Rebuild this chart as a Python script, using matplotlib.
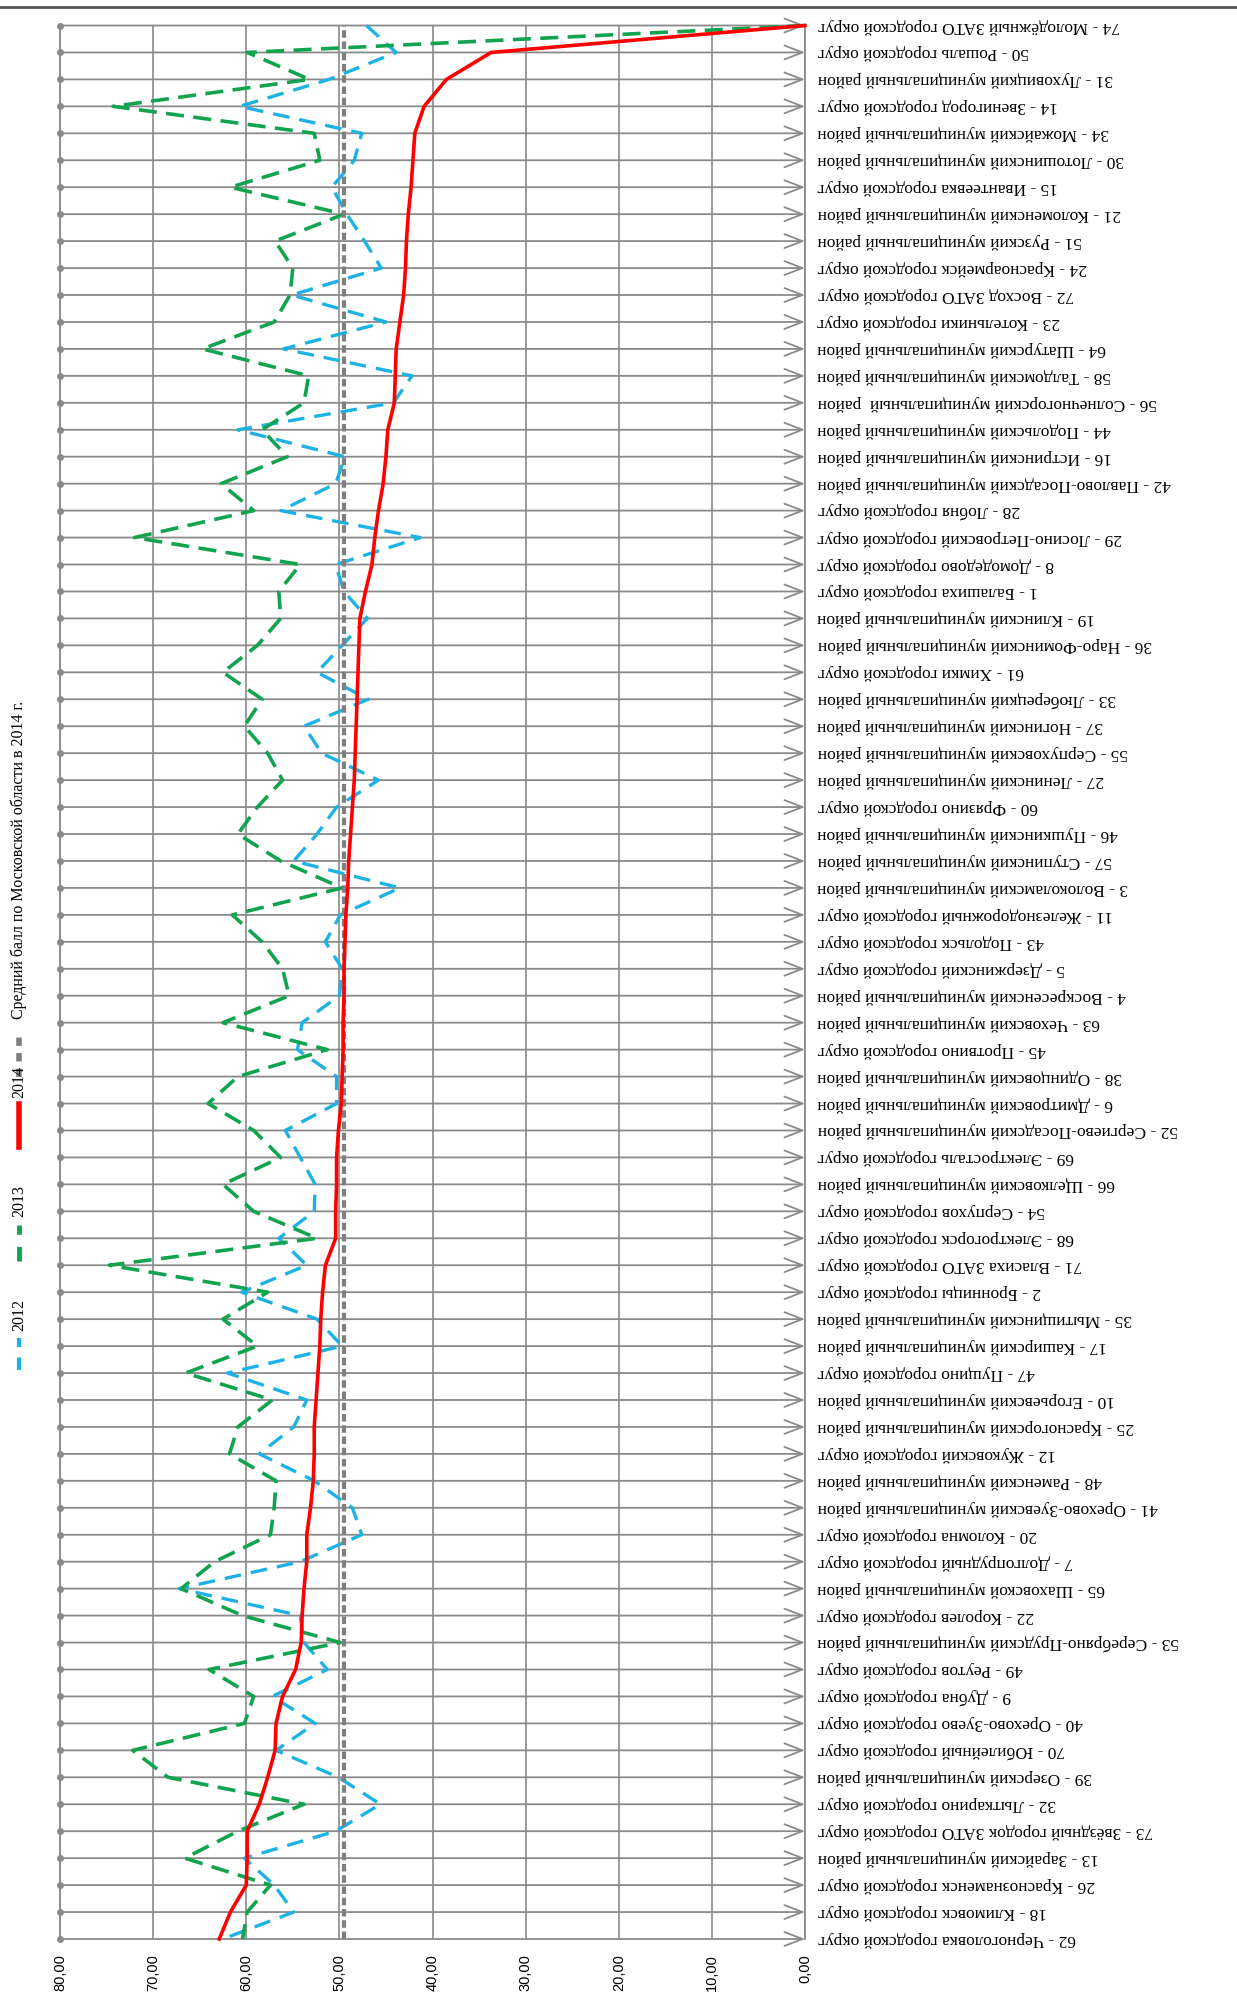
import numpy as np
import matplotlib
matplotlib.use("Agg")
import matplotlib.pyplot as plt
from matplotlib.lines import Line2D

# Муниципальные образования (сверху вниз, как на исходной диаграмме)
names = [
    "74 - Молодёжный ЗАТО городской округ",
    "50 - Рошаль городской округ",
    "31 - Луховицкий муниципальный район",
    "14 - Звенигород городской округ",
    "34 - Можайский муниципальный район",
    "30 - Лотошинский муниципальный район",
    "15 - Ивантеевка городской округ",
    "21 - Коломенский муниципальный район",
    "51 - Рузский муниципальный район",
    "24 - Красноармейск городской округ",
    "72 - Восход ЗАТО городской округ",
    "23 - Котельники городской округ",
    "64 - Шатурский муниципальный район",
    "58 - Талдомский муниципальный район",
    "56 - Солнечногорский муниципальный  район",
    "44 - Подольский муниципальный район",
    "16 - Истринский муниципальный район",
    "42 - Павлово-Посадский муниципальный район",
    "28 - Лобня городской округ",
    "29 - Лосино-Петровский городской округ",
    "8 - Домодедово городской округ",
    "1 - Балашиха городской округ",
    "19 - Клинский муниципальный район",
    "36 - Наро-Фоминский муниципальный район",
    "61 - Химки городской округ",
    "33 - Люберецкий муниципальный район",
    "37 - Ногинский муниципальный район",
    "55 - Серпуховский муниципальный район",
    "27 - Ленинский муниципальный район",
    "60 - Фрязино городской округ",
    "46 - Пушкинский муниципальный район",
    "57 - Ступинский муниципальный район",
    "3 - Волоколамский муниципальный район",
    "11 - Железнодорожный городской округ",
    "43 - Подольск городской округ",
    "5 - Дзержинский городской округ",
    "4 - Воскресенский муниципальный район",
    "63 - Чеховский муниципальный район",
    "45 - Протвино городской округ",
    "38 - Одинцовский муниципальный район",
    "6 - Дмитровский муниципальный район",
    "52 - Сергиево-Посадский муниципальный район",
    "69 - Электросталь городской округ",
    "66 - Щелковский муниципальный район",
    "54 - Серпухов городской округ",
    "68 - Электрогорск городской округ",
    "71 - Власиха ЗАТО городской округ",
    "2 - Бронницы городской округ",
    "35 - Мытищинский муниципальный район",
    "17 - Каширский муниципальный район",
    "47 - Пущино городской округ",
    "10 - Егорьевский муниципальный район",
    "25 - Красногорский муниципальный район",
    "12 - Жуковский городской округ",
    "48 - Раменский муниципальный район",
    "41 - Орехово-Зуевский муниципальный район",
    "20 - Коломна городской округ",
    "7 - Долгопрудный городской округ",
    "65 - Шаховской муниципальный район",
    "22 - Королев городской округ",
    "53 - Серебряно-Прудский муниципальный район",
    "49 - Реутов городской округ",
    "9 - Дубна городской округ",
    "40 - Орехово-Зуево городской округ",
    "70 - Юбилейный городской округ",
    "39 - Озерский муниципальный район",
    "32 - Лыткарино городской округ",
    "73 - Звёздный городок ЗАТО городской округ",
    "13 - Зарайский муниципальный район",
    "26 - Краснознаменск городской округ",
    "18 - Климовск городской округ",
    "62 - Черноголовка городской округ",
]

score_2014 = [0.0, 33.7, 38.5, 40.9, 41.9, 42.1, 42.3, 42.6, 42.8, 42.9,
              43.1, 43.5, 43.9, 44.0, 44.1, 44.8, 45.0, 45.3, 45.8, 46.2,
              46.5, 47.2, 47.8, 47.9, 48.0, 48.1, 48.2, 48.3, 48.4, 48.6,
              48.8, 49.0, 49.1, 49.3, 49.4, 49.5, 49.5, 49.6, 49.6, 49.7,
              49.8, 50.1, 50.3, 50.3, 50.4, 50.4, 51.5, 51.8, 52.0, 52.1,
              52.3, 52.5, 52.7, 52.7, 52.8, 53.1, 53.5, 53.5, 53.8, 54.0,
              54.1, 54.7, 56.1, 56.8, 56.9, 57.7, 58.6, 59.9, 59.9, 60.0,
              61.7, 62.9]

score_2013 = [0.0, 59.9, 53.2, 74.3, 52.7, 52.1, 61.7, 49.5, 56.9, 55.0,
              55.3, 57.0, 64.7, 53.3, 53.8, 58.3, 55.6, 62.7, 59.2, 72.0,
              54.2, 56.5, 56.3, 58.8, 62.5, 58.3, 60.2, 57.7, 56.1, 58.8,
              60.9, 56.3, 49.7, 61.5, 58.3, 56.1, 55.4, 62.5, 51.3, 60.9,
              64.1, 59.2, 56.3, 62.5, 59.2, 52.4, 74.7, 57.7, 62.5, 58.8,
              66.5, 57.2, 60.9, 61.8, 56.8, 57.0, 57.4, 63.4, 67.0, 60.4,
              49.9, 64.0, 59.2, 60.2, 72.2, 68.4, 53.8, 60.9, 66.6, 57.4,
              59.9, 60.4]

score_2012 = [47.1, 43.9, 51.1, 60.7, 47.6, 48.4, 50.8, 49.2, 47.3, 45.5,
              55.1, 45.0, 56.0, 42.2, 44.2, 60.9, 49.4, 50.4, 56.3, 41.3,
              50.4, 49.5, 47.0, 49.7, 52.4, 46.9, 53.8, 51.9, 45.8, 50.3,
              52.4, 54.9, 43.5, 49.9, 51.5, 49.7, 50.0, 54.0, 54.5, 50.3,
              50.3, 55.8, 54.2, 52.6, 52.7, 56.5, 53.5, 60.5, 52.4, 49.7,
              62.0, 53.5, 54.9, 58.6, 52.7, 48.6, 47.6, 54.2, 67.2, 54.2,
              53.8, 51.3, 57.2, 52.6, 56.8, 50.1, 45.6, 50.4, 60.2, 57.0,
              54.9, 62.5]

avg_2014 = 49.5
value_ticks = [80, 70, 60, 50, 40, 30, 20, 10, 0]

legend_names = ["2012", "2013", "2014", "Средний балл по Московской области в 2014 г."]

c12 = "#1db2e6"
c13 = "#12a34f"
c14 = "#ff0000"
cavg = "#7f7f7f"
cgrid = "#8a8a8a"

W, H = 1237, 1998
fig = plt.figure(figsize=(W / 100, H / 100), dpi=100)
ax = fig.add_axes([60 / W, 1 - 1939 / H, (805 - 60) / W, (1939 - 25.5) / H])

pos = np.arange(len(names))
ax.set_xlim(80, 0)
ax.set_ylim(len(names) - 1, 0)

# вертикальная сетка
ax.set_xticks(value_ticks)
ax.grid(axis="x", color=cgrid, lw=1.2)
ax.set_axisbelow(True)
for s in ["top", "bottom"]:
    ax.spines[s].set_visible(False)
for s in ["left", "right"]:
    ax.spines[s].set_color(cgrid)
    ax.spines[s].set_linewidth(1.3)

# линии категорий со стрелками
for p in pos:
    ax.annotate("", xy=(0, p), xytext=(80, p),
                arrowprops=dict(arrowstyle="->,head_length=0.65,head_width=0.25",
                                color=cgrid, lw=1.3, mutation_scale=20,
                                shrinkA=0, shrinkB=0),
                annotation_clip=False, zorder=1)
ax.plot(np.full(len(pos), 80), pos, "o", ms=4, color=cgrid, clip_on=False, zorder=2)

ax.plot(score_2012, pos, color=c12, lw=2.4, dashes=(5, 3), clip_on=False, zorder=3)
ax.plot(score_2013, pos, color=c13, lw=2.6, dashes=(5, 2.6), clip_on=False, zorder=4)
ax.axvline(avg_2014, color=cavg, lw=3, dashes=(1.8, 0.9), zorder=5)
ax.plot(score_2014, pos, color=c14, lw=2.6, clip_on=False, zorder=6)

ax.yaxis.tick_right()
ax.set_yticks(pos)
ax.set_yticklabels(names, rotation=180, ha="left", va="center",
                   fontfamily="Liberation Serif", fontsize=12.5)
ax.tick_params(axis="y", length=0, pad=9)

ax.set_xticklabels([f"{v:.2f}".replace(".", ",") for v in value_ticks],
                   rotation=90, fontfamily="Liberation Sans", fontsize=10.5)
ax.tick_params(axis="x", length=0, pad=11)

# верхняя рамка
fig.add_artist(Line2D([0, 1], [1 - 7 / H, 1 - 7 / H], color="#555555", lw=2))

# легенда (повёрнута)
lx = 19 / W
leg_items = [
    (legend_names[0], dict(color=c12, lw=3, dashes=(3, 2.5)), 1370, 1338, 1331),
    (legend_names[1], dict(color=c13, lw=3.5, dashes=(3, 2.5)), 1261, 1225, 1217),
    (legend_names[2], dict(color=c14, lw=4), 1147, 1104, 1098),
    (legend_names[3], dict(color=cavg, lw=4, dashes=(1.5, 1.3)), 1077, 1034, 1019),
]
for txt, style, y0, y1, ty in leg_items:
    fig.add_artist(Line2D([lx, lx], [1 - y0 / H, 1 - y1 / H], **style))
    fig.text(lx, 1 - ty / H, txt, rotation=90, ha="center", va="bottom",
             fontfamily="Liberation Serif", fontsize=11.5)

fig.savefig("out.png", dpi=100)
